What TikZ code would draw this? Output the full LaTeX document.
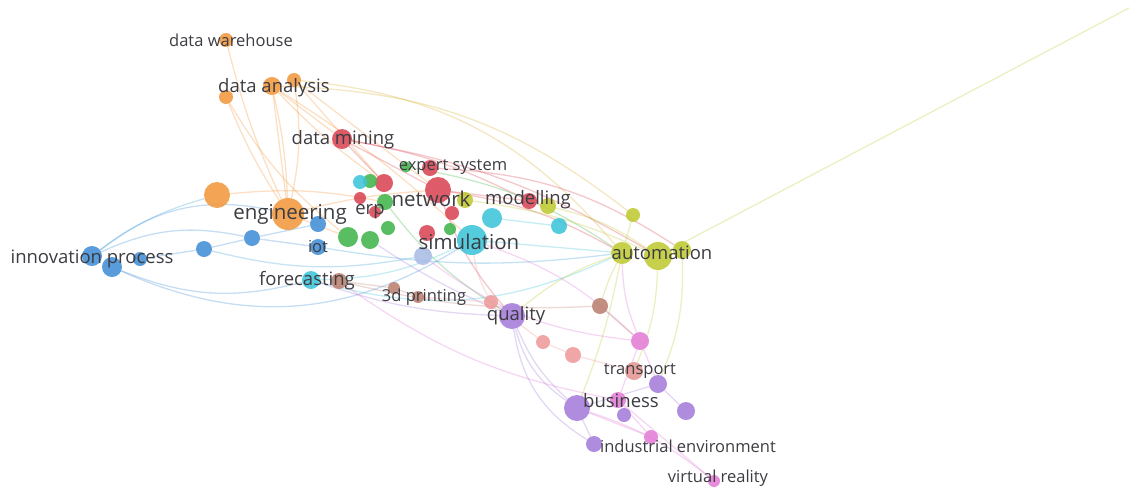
\documentclass[tikz,border=0pt]{standalone}
\usepackage{fontspec}
\setmainfont{Open Sans}
\usetikzlibrary{backgrounds}
\definecolor{corange}{RGB}{241,152,62}
\definecolor{cred}{RGB}{217,70,84}
\definecolor{cgreen}{RGB}{66,180,76}
\definecolor{ccyan}{RGB}{62,196,218}
\definecolor{cblue}{RGB}{66,142,214}
\definecolor{cyellow}{RGB}{190,202,50}
\definecolor{cpurple}{RGB}{165,124,218}
\definecolor{cpink}{RGB}{226,124,214}
\definecolor{csalmon}{RGB}{238,154,154}
\definecolor{cbrown}{RGB}{186,128,112}
\definecolor{clav}{RGB}{170,188,230}
\definecolor{ctext}{RGB}{60,60,66}
\tikzset{
  dot/.style={circle, fill=#1, draw=none, inner sep=0pt, fill opacity=0.88},
  lbl/.style={text=ctext, inner sep=0pt, font=\fontsize{16.5}{16.5}\selectfont},
  lblmid/.style={text=ctext, inner sep=0pt, font=\fontsize{18.5}{18.5}\selectfont},
  lblbig/.style={text=ctext, inner sep=0pt, font=\fontsize{20.5}{20.5}\selectfont},
  edge/.style={draw=#1, line width=1.3pt, draw opacity=0.3},
}
\begin{document}
\begin{tikzpicture}[x=1pt,y=-1pt]
\useasboundingbox (0,0) rectangle (1129,491);

% ---------- keyword circles ----------
% orange cluster
\node[dot=corange, minimum size=14pt] (dw)  at (226,40) {};
\node[dot=corange, minimum size=18pt] (da1) at (272,86) {};
\node[dot=corange, minimum size=14pt] (da2) at (294,80) {};
\node[dot=corange, minimum size=14pt] (da3) at (226,97) {};
\node[dot=corange, minimum size=26pt] (or2) at (217,195) {};
\node[dot=corange, minimum size=32pt] (eng) at (288,214) {};
% red cluster
\node[dot=cred, minimum size=20pt] (dm)  at (342,139) {};
\node[dot=cred, minimum size=18pt] (r1)  at (384,183) {};
\node[dot=cred, minimum size=12pt] (r2)  at (360,198) {};
\node[dot=cred, minimum size=26pt] (net) at (438,190) {};
\node[dot=cred, minimum size=16pt] (r3)  at (430,168) {};
\node[dot=cred, minimum size=14pt] (r4)  at (452,213) {};
\node[dot=cred, minimum size=16pt] (r5)  at (427,233) {};
\node[dot=cred, minimum size=12pt] (r6)  at (375,212) {};
\node[dot=cred, minimum size=16pt] (mod) at (529,201) {};
% green cluster
\node[dot=cgreen, minimum size=11pt] (es)  at (406,167) {};
\node[dot=cgreen, minimum size=14pt] (g1)  at (370,181) {};
\node[dot=cgreen, minimum size=16pt] (erp) at (385,202) {};
\node[dot=cgreen, minimum size=20pt] (g2)  at (348,237) {};
\node[dot=cgreen, minimum size=18pt] (g3)  at (370,240) {};
\node[dot=cgreen, minimum size=14pt] (g4)  at (388,228) {};
\node[dot=cgreen, minimum size=12pt] (g5)  at (450,229) {};
% cyan cluster
\node[dot=ccyan, minimum size=30pt] (sim) at (472,240) {};
\node[dot=ccyan, minimum size=20pt] (c1)  at (492,218) {};
\node[dot=ccyan, minimum size=16pt] (c2)  at (559,226) {};
\node[dot=ccyan, minimum size=14pt] (c3)  at (360,182) {};
\node[dot=ccyan, minimum size=18pt] (fc)  at (311,280) {};
% yellow cluster
\node[dot=cyellow, minimum size=16pt] (y1)  at (465,200) {};
\node[dot=cyellow, minimum size=16pt] (y2)  at (548,206) {};
\node[dot=cyellow, minimum size=14pt] (y3)  at (633,215) {};
\node[dot=cyellow, minimum size=22pt] (au1) at (622,253) {};
\node[dot=cyellow, minimum size=28pt] (au)  at (658,256) {};
\node[dot=cyellow, minimum size=18pt] (au2) at (682,250) {};
% blue cluster
\node[dot=cblue, minimum size=20pt] (ip1) at (92,256) {};
\node[dot=cblue, minimum size=20pt] (ip2) at (112,267) {};
\node[dot=cblue, minimum size=14pt] (ip3) at (140,259) {};
\node[dot=cblue, minimum size=16pt] (b1)  at (204,249) {};
\node[dot=cblue, minimum size=16pt] (b2)  at (252,238) {};
\node[dot=cblue, minimum size=16pt] (b3)  at (318,224) {};
\node[dot=cblue, minimum size=16pt] (iot) at (318,247) {};
% lavender
\node[dot=clav, minimum size=18pt] (lv)  at (423,256) {};
% brown
\node[dot=cbrown, minimum size=16pt] (br1) at (339,281) {};
\node[dot=cbrown, minimum size=12pt] (br2) at (394,288) {};
\node[dot=cbrown, minimum size=12pt] (br3) at (418,297) {};
\node[dot=cbrown, minimum size=16pt] (br4) at (600,306) {};
% salmon
\node[dot=csalmon, minimum size=14pt] (s1)  at (491,302) {};
\node[dot=csalmon, minimum size=14pt] (s2)  at (543,342) {};
\node[dot=csalmon, minimum size=16pt] (s3)  at (573,355) {};
\node[dot=csalmon!80!cbrown, minimum size=18pt] (tr) at (634,371) {};
% purple
\node[dot=cpurple, minimum size=26pt] (qu)  at (512,316) {};
\node[dot=cpurple, minimum size=26pt] (bu)  at (577,408) {};
\node[dot=cpurple, minimum size=18pt] (p1)  at (658,384) {};
\node[dot=cpurple, minimum size=18pt] (p2)  at (686,411) {};
\node[dot=cpurple, minimum size=16pt] (p3)  at (594,444) {};
\node[dot=cpurple, minimum size=14pt] (p4)  at (624,415) {};
% pink
\node[dot=cpink, minimum size=18pt] (k1)  at (640,341) {};
\node[dot=cpink, minimum size=16pt] (k2)  at (618,400) {};
\node[dot=cpink, minimum size=14pt] (k3)  at (651,437) {};
\node[dot=cpink, minimum size=12pt] (vr)  at (714,481) {};
% far end of the long automation link
\coordinate (far) at (1129,8);

% ---------- links ----------
\begin{pgfonlayer}{background}
% orange
\draw[edge=corange] (dw) to[bend right=5] (eng);
\draw[edge=corange] (da3) to[bend right=5] (eng);
\draw[edge=corange] (da1) to (eng);
\draw[edge=corange] (da1) to[bend left=5] (eng);
\draw[edge=corange] (da2) to[bend left=10] (eng);
\draw[edge=corange] (da1) to (dm);
\draw[edge=corange] (da2) to (r1);
\draw[edge=corange] (da1) to[bend right=5] (r1);
\draw[edge=corange] (da2) to (net);
\draw[edge=corange] (da3) to[bend right=10] (g2);
\draw[edge=corange] (da1) to[bend left=5] (sim);
\draw[edge=corange!50!cyellow] (da2) to[bend left=22] (au1);
\draw[edge=corange!50!cyellow] (da1) to[bend left=18] (y3);
\draw[edge=corange] (or2) to[bend left=8] (erp);
\draw[edge=corange] (eng) to (g2);
\draw[edge=corange] (eng) to[bend left=5] (net);
% red
\draw[edge=cred] (dm) to (net);
\draw[edge=cred] (dm) to (r1);
\draw[edge=cred] (dm) to[bend left=8] (mod);
\draw[edge=cred] (dm) to[bend left=10] (au);
\draw[edge=cred] (net) to (mod);
\draw[edge=cred] (net) to[bend left=10] (au1);
\draw[edge=cred] (net) to[bend right=10] (qu);
\draw[edge=cred] (r3) to[bend left=15] (au2);
% green / cyan
\draw[edge=cgreen] (es) to[bend left=12] (au1);
\draw[edge=cgreen] (erp) to[bend right=10] (qu);
\draw[edge=ccyan] (sim) to (au1);
\draw[edge=ccyan] (c1) to (c2);
\draw[edge=ccyan] (sim) to[bend left=12] (fc);
\draw[edge=ccyan] (fc) to[bend right=20] (au1);
% blue
\draw[edge=cblue] (ip1) to[bend left=25] (eng);
\draw[edge=cblue] (ip1) to[bend left=18] (b2);
\draw[edge=cblue] (ip2) to[bend right=18] (fc);
\draw[edge=cblue] (ip3) to (b1);
\draw[edge=cblue] (b1) to (b2);
\draw[edge=cblue] (b2) to (iot);
\draw[edge=cblue] (b2) to (b3);
\draw[edge=cblue] (ip2) to[bend right=28] (sim);
\draw[edge=cblue!60!ccyan] (ip1) to[bend left=10] (or2);
\draw[edge=cblue!60!ccyan] (iot) to[bend right=8] (au1);
\draw[edge=cblue!60!ccyan] (b1) to[bend right=12] (lv);
% yellow
\draw[edge=cyellow] (au) to (far);
\draw[edge=cyellow] (au1) to (y3);
\draw[edge=cyellow] (au) to[bend right=10] (y2);
\draw[edge=cyellow] (au) to[bend right=8] (y1);
\draw[edge=cyellow] (au1) to[bend right=10] (qu);
\draw[edge=cyellow] (au1) to[bend left=5] (bu);
\draw[edge=cyellow] (au) to[bend left=10] (tr);
\draw[edge=cyellow] (au2) to[bend left=12] (p1);
\draw[edge=cyellow] (au1) to[bend right=5] (br4);
% purple / pink / salmon
\draw[edge=cpurple] (qu) to[bend right=12] (bu);
\draw[edge=cpurple] (qu) to[bend right=20] (bu);
\draw[edge=cpurple] (qu) to[bend right=25] (p3);
\draw[edge=cpurple] (qu) to[bend left=8] (fc);
\draw[edge=cpurple] (qu) to[bend left=5] (g3);
\draw[edge=cpurple] (bu) to (p1);
\draw[edge=cpurple] (bu) to (p3);
\draw[edge=cpurple] (p1) to (p2);
\draw[edge=cpink] (k1) to (k2);
\draw[edge=cpink] (k1) to (p1);
\draw[edge=cpink] (k2) to (vr);
\draw[edge=cpink] (bu) to (k3);
\draw[edge=cpink] (k2) to (k3);
\draw[edge=cpink] (k1) to[bend right=12] (sim);
\draw[edge=cpink] (k1) to[bend left=10] (au1);
\draw[edge=cpink] (bu) to[bend left=10] (vr);
\draw[edge=cpink] (lv) to[bend right=15] (k1);
\draw[edge=cpink] (br1) to[bend right=12] (k2);
\draw[edge=csalmon] (s1) to (s2);
\draw[edge=csalmon] (s2) to (s3);
\draw[edge=csalmon] (s3) to (tr);
\draw[edge=csalmon] (s1) to[bend left=10] (sim);
\draw[edge=csalmon] (br3) to (s1);
\draw[edge=cbrown] (br1) to (br2);
\draw[edge=cbrown] (br2) to (br3);
\draw[edge=cbrown] (br4) to (k1);
\draw[edge=cbrown] (br1) to[bend right=8] (br4);
\end{pgfonlayer}

% ---------- keyword labels ----------
\node[lbl]    (tdw)  at (231,40)  {data warehouse};
\node[lblmid] (tda)  at (274,88)  {data analysis};
\node[lblmid] (tdm)  at (343,140) {data mining};
\node[lbl]    (tes)  at (453,167) {expert system};
\node[lblbig] (teng) at (290,214) {engineering};
\node[lblmid] (terp) at (370,212) {erp};
\node[lblbig] (tnet) at (431,199) {network};
\node[lblmid] (tmod) at (528,200) {modelling};
\node[lblbig] (tsim) at (469,242) {simulation};
\node[lblmid] (tip)  at (92,259)  {innovation process};
\node[lbl]    (tiot) at (318,247) {iot};
\node[lblmid] (tfc)  at (307,281) {forecasting};
\node[lbl]    (t3d)  at (424,297) {3d printing};
\node[lblmid] (tau)  at (662,253) {automation};
\node[lblmid] (tqu)  at (516,316) {quality};
\node[lbl]    (ttr)  at (640,371) {transport};
\node[lblmid] (tbu)  at (621,401) {business};
\node[lbl]    (tie)  at (688,446) {industrial environment};
\node[lbl]    (tvr)  at (718,478) {virtual reality};
\end{tikzpicture}
\end{document}
